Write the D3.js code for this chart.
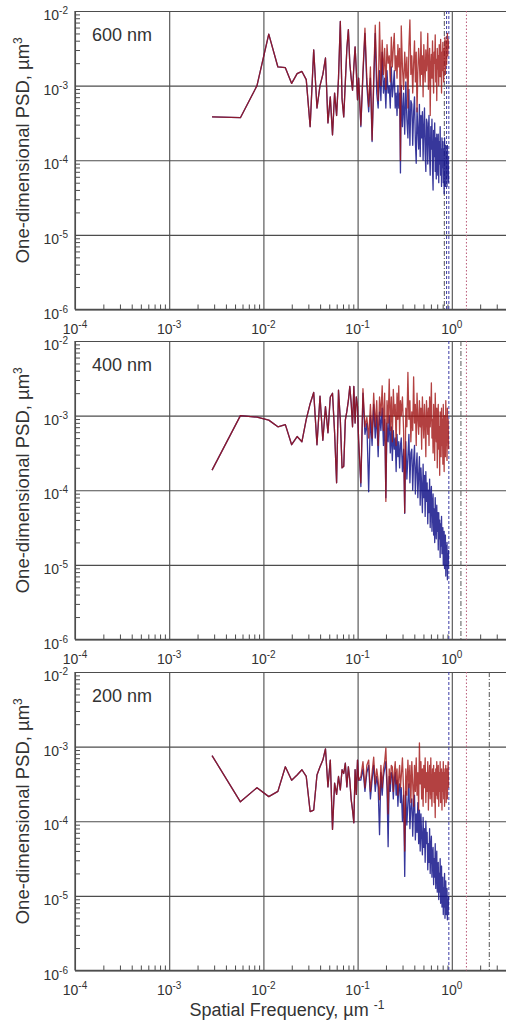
<!DOCTYPE html>
<html>
<head>
<meta charset="utf-8">
<script src="https://cdn.jsdelivr.net/npm/d3@7"></script>
<style>
  body { margin: 0; background: #fff; }
  text { font-family: Arial, "Liberation Sans", sans-serif; fill: #333; }
</style>
</head>
<body>
<svg id="chart" width="506" height="1027"></svg>
<script>
// Harmonic index of each PSD bin; frequency = index * binWidth (µm^-1)
const harmonics = [
  1,2,3,4,5,6,7,8,9,10,11,12,13,14,15,16,17,18,19,20,21,22,23,24,25,26,27,28,29,30,31,32,33,34,35,36,
  38,40,42,44,46,48,50,52,54,56,58,60,62,64,66,68,70,72,74,76,78,80,82,84,86,88,90,92,94,96,98,100,
  102,105,108,111,114,117,120,123,126,129,132,135,138,141,144,147,150,153,156,159,
  162,165,168,171,174,177,180,183,186,189,192,195,198,201,204,207,210,213,216,219,
  222,225,228,231,234,237,240,243,246,249,252,255,258,261,264,267,270,273,276,279,
  282,285,288,291,294,297,300,303,306,309,312,315,318,321,324
];
const binWidth = 0.00285;

const panelLabels = ["600 nm", "400 nm", "200 nm"];

// log10 of PSD (µm^3). Low-frequency bins coincide in both profiles.
const shared600 = [-3.42,-3.43,-3.00,-2.31,-2.75,-2.76,-2.97,-2.84,-2.81,-2.92,
  -3.55,-2.52,-3.30,-3.00,-2.85,-2.63,-3.50,-3.15,-3.66,-3.10,
  -3.40,-2.90,-2.14,-3.18,-3.42,-2.95,-2.50,-2.25,-2.70,-2.90,
  -3.06,-2.75,-2.48,-2.80,-3.19,-2.90];
const red600 = shared600.concat(
  [-3.53,-2.80,-2.23,-2.90,-3.28,-2.75,-3.73,-2.90,-2.19,-2.85,
   -3.20,-2.15,-3.00,-2.39,-2.85,-2.50,-3.05,-2.45,-2.70,-2.60,
   -2.95,-2.35,-2.75,-2.50,-2.30,-2.80,-2.60,-2.90,-2.45,-2.75,
   -2.50,-4.00],
  [-2.20,-2.75,-3.05,-2.55,-2.90,-2.62,-3.30,-2.48,-2.12,-2.85,
   -2.60,-3.10,-2.70,-2.40,-2.95,-2.55,-3.35,-2.80,-2.50,-2.70,
   -3.00,-2.28,-2.85,-2.60,-3.15,-2.45,-2.75,-2.95,-2.52,-2.80,
   -2.65,-2.30,-3.05,-2.70,-2.50,-3.40,-2.75,-2.58,-2.90,-2.40,
   -2.85,-3.10,-2.55,-2.70,-2.32,-2.95,-2.65,-3.20,-2.50,-2.78,
   -2.60,-3.00,-2.45,-2.72,-2.88,-2.38,-2.65,-3.10,-2.55,-2.80,
   -2.42,-2.70,-2.95,-2.50,-2.62,-2.35,-2.85,-2.55,-2.40,-2.72,
   -2.45,-2.30,-2.60,-2.38,-2.50]);
const blue600 = shared600.concat(
  [-3.55,-2.85,-2.30,-3.00,-3.35,-2.90,-3.75,-3.00,-2.30,-3.10,
   -3.30,-2.80,-3.20,-2.55,-3.10,-2.90,-3.30,-2.80,-3.10,-3.00,
   -3.30,-2.75,-3.15,-3.00,-2.80,-3.30,-3.10,-3.40,-3.00,-3.30,
   -3.10,-4.17],
  [-3.00,-3.55,-3.10,-3.65,-2.95,-3.45,-3.70,-3.05,-3.80,-3.20,
   -3.25,-3.80,-3.35,-3.15,-3.75,-4.04,-3.30,-3.60,-3.85,-3.25,
   -3.95,-3.40,-3.70,-3.35,-4.00,-3.55,-3.30,-3.90,-4.15,-3.45,
   -3.50,-4.05,-3.60,-3.40,-3.95,-4.20,-3.55,-3.85,-3.45,-4.10,
   -4.40,-3.60,-3.95,-3.50,-4.15,-3.70,-4.25,-3.65,-3.90,-4.20,
   -3.65,-4.30,-3.75,-4.05,-3.55,-4.20,-3.85,-4.35,-3.70,-4.10,
   -3.75,-4.30,-3.85,-4.45,-3.70,-4.15,-4.35,-3.80,-4.25,-3.90,
   -4.35,-3.80,-4.20,-3.95,-4.30]);

const shared400 = [-3.73,-3.00,-3.02,-3.06,-3.15,-3.12,-3.39,-3.28,-3.35,-3.05,
  -2.84,-2.69,-3.39,-2.74,-3.33,-2.88,-3.23,-2.75,-2.70,-3.23,
  -3.90,-2.66,-3.06,-3.70,-3.68,-3.06,-2.94,-2.80,-2.61,-2.83,
  -3.15,-2.61,-3.10,-2.75,-2.88,-3.34];
const red400 = shared400.concat(
  [-3.90,-2.64,-3.15,-3.02,-3.30,-2.85,-3.30,-2.70,-3.15,-2.80,
   -3.40,-2.75,-3.00,-2.60,-3.20,-2.70,-4.15,-2.80,-3.10,-2.51,
   -3.20,-2.75,-3.35,-2.65,-3.00,-2.85,-3.40,-2.70,-3.05,-2.60,
   -3.25,-2.80],
  [-3.00,-2.75,-3.20,-4.30,-2.90,-3.15,-2.42,-3.05,-2.80,-3.35,
   -2.95,-3.20,-2.48,-3.10,-2.85,-3.40,-2.70,-3.05,-3.25,-2.80,
   -3.15,-2.90,-3.45,-2.75,-3.05,-3.30,-2.85,-3.10,-3.55,-2.80,
   -3.00,-3.25,-2.90,-3.40,-2.75,-3.15,-2.95,-2.56,-3.30,-3.05,
   -3.50,-2.85,-3.20,-3.60,-2.70,-3.05,-3.35,-2.90,-3.70,-3.10,
   -2.85,-3.45,-3.15,-3.80,-2.95,-3.25,-3.55,-2.90,-3.40,-3.05,
   -3.65,-2.85,-3.30,-3.75,-3.00,-3.20,-3.55,-2.80,-3.40,-3.10,
   -3.60,-2.90,-3.30,-3.05,-3.45]);
const blue400 = shared400.concat(
  [-3.95,-2.70,-3.25,-3.10,-4.02,-3.00,-3.40,-2.85,-3.30,-3.00,
   -3.55,-2.95,-3.20,-2.90,-3.40,-3.05,-4.10,-3.10,-3.35,-3.00,
   -3.50,-3.15,-3.60,-3.20,-3.45,-3.30,-3.75,-3.25,-3.55,-3.35,
   -3.70,-3.40],
  [-3.30,-3.75,-3.45,-4.31,-3.35,-3.85,-3.55,-3.25,-3.90,-3.50,
   -3.45,-4.00,-3.60,-3.40,-4.05,-3.70,-3.50,-4.10,-3.80,-3.55,
   -4.20,-3.70,-3.95,-4.30,-3.65,-4.10,-3.80,-4.35,-3.75,-4.15,
   -3.90,-4.45,-4.00,-4.30,-3.85,-4.50,-4.10,-3.95,-4.55,-4.20,
   -4.05,-4.60,-4.25,-4.70,-4.10,-4.45,-4.65,-4.20,-4.55,-4.30,
   -4.80,-4.30,-4.65,-4.40,-4.90,-4.45,-4.75,-4.35,-4.85,-4.60,
   -4.50,-5.00,-4.70,-4.55,-5.05,-4.80,-4.60,-5.15,-4.75,-4.95,
   -4.70,-5.20,-4.85,-5.05,-4.80]);

const shared200 = [-3.12,-3.74,-3.55,-3.67,-3.60,-3.27,-3.45,-3.38,-3.31,-3.40,
  -3.87,-3.85,-3.38,-3.27,-3.18,-3.03,-3.54,-3.18,-4.11,-3.49,
  -3.64,-3.40,-3.58,-3.31,-3.36,-3.22,-3.54,-3.27,-3.45,-3.71,
  -3.85,-4.02,-3.31,-3.64,-3.18,-3.45];
const red200 = shared200.concat(
  [-3.40,-3.20,-3.55,-3.25,-3.18,-3.60,-3.35,-3.14,-3.50,-3.30,
   -3.45,-3.71,-3.25,-3.55,-3.30,-3.20,-3.02,-3.45,-3.90,-3.30,
   -3.50,-3.25,-3.27,-3.60,-3.35,-3.20,-3.50,-3.30,-3.65,-3.40,
   -3.25,-3.55],
  [-3.40,-3.15,-3.60,-4.40,-3.30,-3.65,-3.18,-3.55,-3.25,-3.75,
   -3.20,-3.50,-3.80,-3.25,-3.60,-3.15,-3.65,-3.35,-3.85,-2.95,
   -3.50,-3.20,-3.70,-3.30,-3.80,-3.25,-3.55,-3.15,-3.75,-3.35,
   -3.60,-3.20,-3.85,-3.40,-3.25,-3.70,-3.15,-3.55,-3.80,-3.30,
   -3.60,-3.25,-3.75,-3.35,-3.95,-3.30,-3.65,-3.20,-3.70,-3.40,
   -3.25,-3.80,-3.35,-3.60,-3.20,-3.75,-3.45,-3.30,-3.85,-3.35,
   -3.60,-3.20,-3.70,-3.35,-3.80,-3.30,-3.55,-3.25,-3.75,-3.40,
   -3.30,-3.70,-3.35,-3.20,-3.55]);
const blue200 = shared200.concat(
  [-3.45,-3.30,-3.60,-3.35,-3.25,-3.70,-3.45,-3.25,-3.60,-3.40,
   -3.55,-4.18,-3.35,-3.65,-3.40,-3.30,-3.20,-3.55,-4.34,-3.40,
   -3.60,-3.35,-3.40,-3.70,-3.45,-3.35,-3.65,-3.45,-3.80,-3.55,
   -3.50,-3.75],
  [-3.55,-4.00,-3.65,-4.74,-3.60,-4.05,-3.75,-3.50,-4.10,-3.80,
   -3.70,-4.20,-3.80,-3.65,-4.25,-3.90,-4.15,-3.75,-4.30,-3.85,
   -4.40,-3.90,-4.20,-4.45,-3.95,-4.35,-4.10,-4.55,-4.00,-4.30,
   -4.15,-4.65,-4.30,-4.55,-4.10,-4.70,-4.35,-4.20,-4.75,-4.45,
   -4.35,-4.85,-4.50,-4.75,-4.30,-4.90,-4.55,-4.40,-4.95,-4.65,
   -4.55,-5.05,-4.70,-4.95,-4.50,-5.10,-4.75,-4.60,-5.15,-4.85,
   -4.75,-5.25,-4.90,-5.15,-4.70,-5.30,-4.95,-4.80,-5.25,-5.05,
   -4.90,-5.32,-5.05,-5.25,-5.00]);

const redSeries = [red600, red400, red200];
const blueSeries = [blue600, blue400, blue200];

// Vertical marker lines (µm^-1) per panel
const markers = [
  [{ f: 0.833, kind: "nyq" }, { f: 0.88, kind: "blue" }, { f: 0.93, kind: "blue" }, { f: 1.43, kind: "red" }],
  [{ f: 0.93, kind: "blue" }, { f: 1.25, kind: "nyq" }, { f: 1.43, kind: "red" }],
  [{ f: 0.93, kind: "blue" }, { f: 1.43, kind: "red" }, { f: 2.5, kind: "nyq" }]
];

const xMajor = [1e-4, 1e-3, 1e-2, 1e-1, 1];
const xMajorExp = ["-4", "-3", "-2", "-1", "0"];
const yMajor = [1e-2, 1e-3, 1e-4, 1e-5, 1e-6];
const yMajorExp = ["-2", "-3", "-4", "-5", "-6"];

// ---- layout ----
const W = 506;
const left = 75, decadeX = 94.2;
const tops = [11, 341, 672];
const plotH = 298.5;
const gridColor = "#4d4d4d";

const svg = d3.select("#chart");
const x = d3.scaleLog().domain([1e-4, Math.pow(10, 0.6)]).range([left, left + decadeX * 4.6]);

const xMinor = [];
for (let e = -4; e <= 0; e++) for (let m = 2; m <= 9; m++) xMinor.push(m * Math.pow(10, e));
const yMinor = [];
for (let e = -6; e <= -3; e++) for (let m = 2; m <= 9; m++) yMinor.push(m * Math.pow(10, e));

const markerStyle = {
  nyq:  { stroke: "#555", dash: "5,2,1,2" },
  blue: { stroke: "#3c3ca6", dash: "3,2" },
  red:  { stroke: "#b85a78", dash: "1.5,2" }
};

tops.forEach((top, i) => {
  const bottom = top + plotH;
  const y = d3.scaleLog().domain([1e-6, 1e-2]).range([bottom, top]);
  const g = svg.append("g");

  const clipId = "clip" + i;
  svg.append("clipPath").attr("id", clipId)
    .append("rect").attr("x", left).attr("y", top - 1).attr("width", W - left).attr("height", plotH + 2);

  // major grid
  g.append("g").attr("transform", `translate(0,${bottom})`)
    .call(d3.axisBottom(x).tickValues(xMajor).tickSize(-plotH).tickFormat("").tickSizeOuter(0))
    .call(a => a.select(".domain").remove())
    .selectAll("line").attr("stroke", gridColor).attr("stroke-width", 1.1);
  g.append("g").attr("transform", `translate(${left},0)`)
    .call(d3.axisLeft(y).tickValues(yMajor).tickSize(-(W - left)).tickFormat("").tickSizeOuter(0))
    .call(a => a.select(".domain").remove())
    .selectAll("line").attr("stroke", gridColor).attr("stroke-width", 1.1);

  // minor ticks
  g.append("g").attr("transform", `translate(0,${bottom})`)
    .call(d3.axisBottom(x).tickValues(xMinor).tickSize(-5).tickFormat("").tickSizeOuter(0))
    .call(a => a.select(".domain").remove())
    .selectAll("line").attr("stroke", gridColor);
  g.append("g").attr("transform", `translate(${left},0)`)
    .call(d3.axisLeft(y).tickValues(yMinor).tickSize(-5).tickFormat("").tickSizeOuter(0))
    .call(a => a.select(".domain").remove())
    .selectAll("line").attr("stroke", gridColor);

  // axes frame lines
  g.append("line").attr("x1", left).attr("x2", W).attr("y1", bottom).attr("y2", bottom)
    .attr("stroke", gridColor).attr("stroke-width", 1.3);
  g.append("line").attr("x1", left).attr("x2", left).attr("y1", top).attr("y2", bottom)
    .attr("stroke", gridColor).attr("stroke-width", 1.3);

  // marker lines
  markers[i].forEach(m => {
    const s = markerStyle[m.kind];
    g.append("line").attr("x1", x(m.f)).attr("x2", x(m.f)).attr("y1", top).attr("y2", bottom)
      .attr("stroke", s.stroke).attr("stroke-width", 1).attr("stroke-dasharray", s.dash);
  });

  // PSD curves
  const line = d3.line()
    .x((d, j) => x(harmonics[j] * binWidth))
    .y(d => y(Math.pow(10, d)));
  const curves = g.append("g").attr("clip-path", `url(#${clipId})`).attr("fill", "none");
  curves.append("path").attr("d", line(blueSeries[i]))
    .attr("stroke", "#14148a").attr("stroke-width", 1.3).attr("stroke-opacity", 0.85)
    .attr("stroke-linejoin", "round");
  curves.append("path").attr("d", line(redSeries[i]))
    .attr("stroke", "#a01212").attr("stroke-width", 1.3).attr("stroke-opacity", 0.8)
    .attr("stroke-linejoin", "round");

  // y tick labels
  yMajor.forEach((v, k) => {
    const t = g.append("text").attr("x", 68).attr("y", y(v) + 9)
      .attr("text-anchor", "end").attr("font-size", 14);
    t.append("tspan").text("10");
    t.append("tspan").attr("dy", -6).attr("font-size", 10).text(yMajorExp[k]);
  });

  // x tick labels
  xMajor.forEach((v, k) => {
    const t = g.append("text").attr("x", x(v)).attr("y", bottom + 24)
      .attr("text-anchor", "middle").attr("font-size", 14);
    t.append("tspan").text("10");
    t.append("tspan").attr("dy", -6).attr("font-size", 10).text(xMajorExp[k]);
  });

  // panel label
  g.append("text").attr("x", 92).attr("y", top + 30).attr("font-size", 18).text(panelLabels[i]);

  // y-axis title
  const yt = g.append("text")
    .attr("transform", `translate(29,${(top + bottom) / 2 - 10}) rotate(-90)`)
    .attr("text-anchor", "middle").attr("font-size", 18.5);
  yt.append("tspan").text("One-dimensional PSD, \u00b5m");
  yt.append("tspan").attr("dy", -7).attr("font-size", 12).text("3");
});

// x-axis title
const xt = svg.append("text").attr("x", 287).attr("y", 1016)
  .attr("text-anchor", "middle").attr("font-size", 18);
xt.append("tspan").text("Spatial Frequency, \u00b5m ");
xt.append("tspan").attr("dy", -7).attr("font-size", 12).text("-1");
</script>
</body>
</html>
